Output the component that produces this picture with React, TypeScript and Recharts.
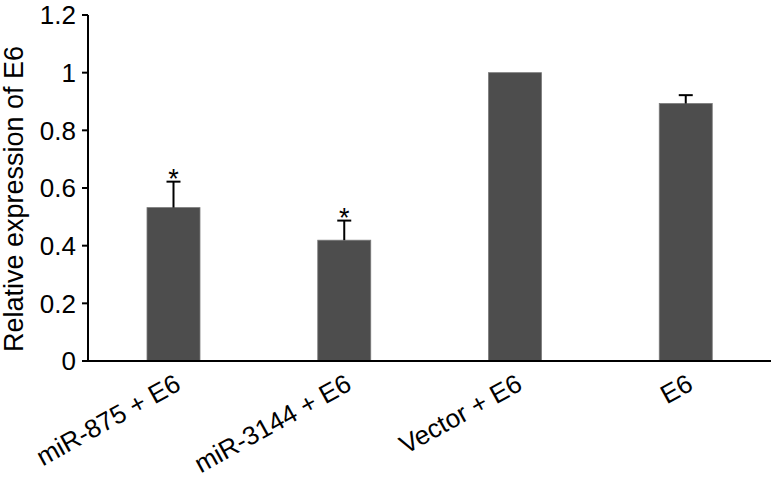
import { BarChart, Bar, XAxis, YAxis } from "recharts";

const groups = ["miR-875 + E6", "miR-3144 + E6", "Vector + E6", "E6"];
const means = [0.532, 0.419, 1.0, 0.893];
const sems = [0.09, 0.068, 0, 0.029];
const marks = ["*", "*", "", ""];
const yTicks = [0, 0.2, 0.4, 0.6, 0.8, 1, 1.2];

const data = groups.map((name, i) => ({
  name,
  value: means[i],
  sem: sems[i],
  mark: marks[i],
}));

const FONT = "'Liberation Sans', Arial, Helvetica, sans-serif";

// bar body plus an upward-only error whisker and significance star
function BarWithError(props: any) {
  const { x, y, width, height, payload } = props;
  const cx = x + width / 2;
  const unit = payload.value ? height / payload.value : 0;
  const top = y - payload.sem * unit;
  return (
    <g>
      <rect x={x} y={y} width={width} height={height} fill="#4d4d4d" stroke="#7a7a7a" strokeWidth={0.8} />
      {payload.sem > 0 && (
        <g stroke="#000" strokeWidth={2}>
          <line x1={cx} y1={y} x2={cx} y2={top} />
          <line x1={cx - 7} y1={top} x2={cx + 7} y2={top} />
        </g>
      )}
      {payload.mark && (
        <text x={cx} y={top + 6} textAnchor="middle" fontSize={27} fontFamily={FONT} fill="#000">
          {payload.mark}
        </text>
      )}
    </g>
  );
}

function GroupTick(props: any) {
  const { x, y, payload } = props;
  const tx = x + 9;
  const ty = y + 26;
  return (
    <text
      x={tx}
      y={ty}
      textAnchor="end"
      fontSize={26}
      fontFamily={FONT}
      fill="#000"
      transform={`rotate(-29, ${tx}, ${ty})`}
    >
      {payload.value}
    </text>
  );
}

function YTitle() {
  return (
    <text
      x={23}
      y={199}
      textAnchor="middle"
      fontSize={27}
      fontFamily={FONT}
      fill="#000"
      transform="rotate(-90, 23, 199)"
    >
      Relative expression of E6
    </text>
  );
}

export default function App() {
  return (
    <div style={{ width: 772, height: 482, background: "#fff" }}>
      <style>{"body{margin:0}"}</style>
      <BarChart width={772} height={482} data={data} margin={{ top: 15, right: 1, left: 0, bottom: 0 }}>
        <XAxis
          dataKey="name"
          height={121}
          tick={<GroupTick />}
          tickLine={false}
          tickSize={0}
          interval={0}
          axisLine={{ stroke: "#000", strokeWidth: 2 }}
        />
        <YAxis
          width={88}
          domain={[0, 1.2]}
          ticks={yTicks}
          tickFormatter={(v: number) => String(v)}
          tick={{ fontSize: 26, fill: "#000", fontFamily: FONT }}
          tickSize={6}
          tickMargin={6}
          tickLine={{ stroke: "#000", strokeWidth: 2 }}
          axisLine={{ stroke: "#000", strokeWidth: 2 }}
          label={<YTitle />}
        />
        <Bar dataKey="value" barSize={53} shape={<BarWithError />} isAnimationActive={false} />
      </BarChart>
    </div>
  );
}
